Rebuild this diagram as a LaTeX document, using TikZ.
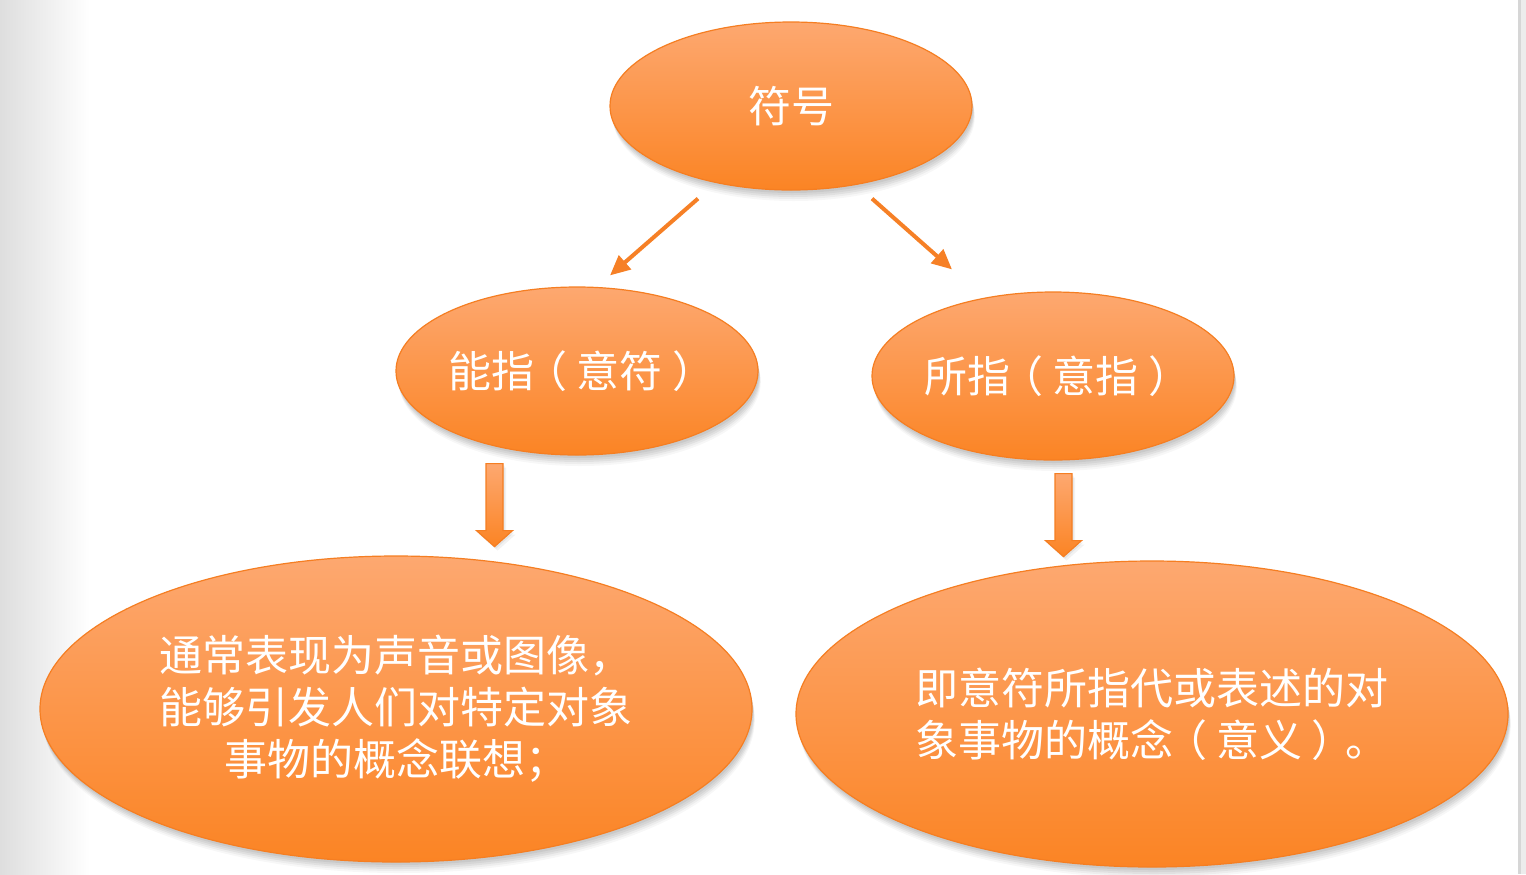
\documentclass[tikz,border=0pt]{standalone}
\usepackage{fontspec}
\setmainfont{Noto Sans CJK SC}
\usetikzlibrary{shapes.geometric,arrows.meta}

\definecolor{ortop}{RGB}{253,168,112}
\definecolor{orbot}{RGB}{251,132,36}
\definecolor{oredge}{RGB}{245,126,34}
\definecolor{orline}{RGB}{246,128,38}
\definecolor{edgegray}{RGB}{214,214,214}
\definecolor{edgelight}{RGB}{236,236,236}
\definecolor{leftgray}{RGB}{222,222,222}

\newcommand{\lpar}{\hspace{-0.22em}（\hspace{0.22em}}
\newcommand{\rpar}{\hspace{0.22em}）\hspace{-0.22em}}
\newcommand{\fixbox}[1]{\makebox[80pt]{#1}}

\begin{document}
\begin{tikzpicture}[x=0.5pt,y=-0.5pt,
  softshadow/.style={
    preaction={fill=black, opacity=0.05, transform canvas={xshift=0.5pt,yshift=-1.5pt}},
    preaction={fill=black, opacity=0.05, transform canvas={xshift=0.8pt,yshift=-2.5pt}},
    preaction={fill=black, opacity=0.05, transform canvas={xshift=1pt,yshift=-3.5pt}},
    preaction={fill=black, opacity=0.04, transform canvas={xshift=1.2pt,yshift=-4.5pt}},
    preaction={fill=black, opacity=0.03, transform canvas={xshift=1.4pt,yshift=-5.5pt}}},
  oval/.style={ellipse, inner sep=0pt, softshadow, top color=ortop, bottom color=orbot,
    draw=oredge, line width=0.6pt, text=white,
    font=\fontsize{21.5pt}{26pt}\selectfont},
  small/.style={oval, minimum width=181pt, minimum height=84pt},
  big/.style={oval, minimum width=356pt, minimum height=153pt},
  link/.style={draw=orline, line width=2pt, -{Triangle[length=10pt,width=9pt]}},
  blockarrow/.style={top color=ortop, bottom color=orbot, draw=oredge, line width=0.6pt,
    preaction={fill=black, opacity=0.06, transform canvas={xshift=0.8pt,yshift=-1pt}},
    preaction={fill=black, opacity=0.05, transform canvas={xshift=1.5pt,yshift=-2pt}}}
]
\useasboundingbox (0,0) rectangle (1526,874);
\fill[white] (0,0) rectangle (1526,874);
\shade[left color=leftgray, right color=white] (0,0) rectangle (90,874);
\fill[edgegray] (1518,0) rectangle (1521,874);
\fill[edgelight] (1521,0) rectangle (1526,874);

\node[small] (sym) at (791,106) {\fixbox{符号}};
\node[small] (sig) at (577,371) {\fixbox{能指\lpar 意符\rpar}};
\node[small] (sigd) at (1053,376) {\fixbox{所指\lpar 意指\rpar}};
\node[big, align=center] (desl) at (396,709) {通常表现为声音或图像，\\能够引发人们对特定对象\\事物的概念联想；};
\node[big, align=left] (desr) at (1152,714) {即意符所指代或表述的对\\象事物的概念\lpar 意义\rpar 。};

\draw[link] ([shift={(-93,8)}]sym.south) -- ([shift={(33,-11)}]sig.north);
\draw[link] ([shift={(81,8)}]sym.south) -- ([shift={(-101,-22)}]sigd.north);

\coordinate (la) at ([shift={(-82.5,8)}]sig.south);
\coordinate (ra) at ([shift={(10.5,13)}]sigd.south);
\draw[blockarrow] (la) ++(-8.5,0) -- ++(17,0) -- ++(0,67) -- ++(9.5,0) -- ++(-18,16) -- ++(-18,-16) -- ++(9.5,0) -- cycle;
\draw[blockarrow] (ra) ++(-8.5,0) -- ++(17,0) -- ++(0,67) -- ++(9.5,0) -- ++(-18,16) -- ++(-18,-16) -- ++(9.5,0) -- cycle;
\end{tikzpicture}
\end{document}
